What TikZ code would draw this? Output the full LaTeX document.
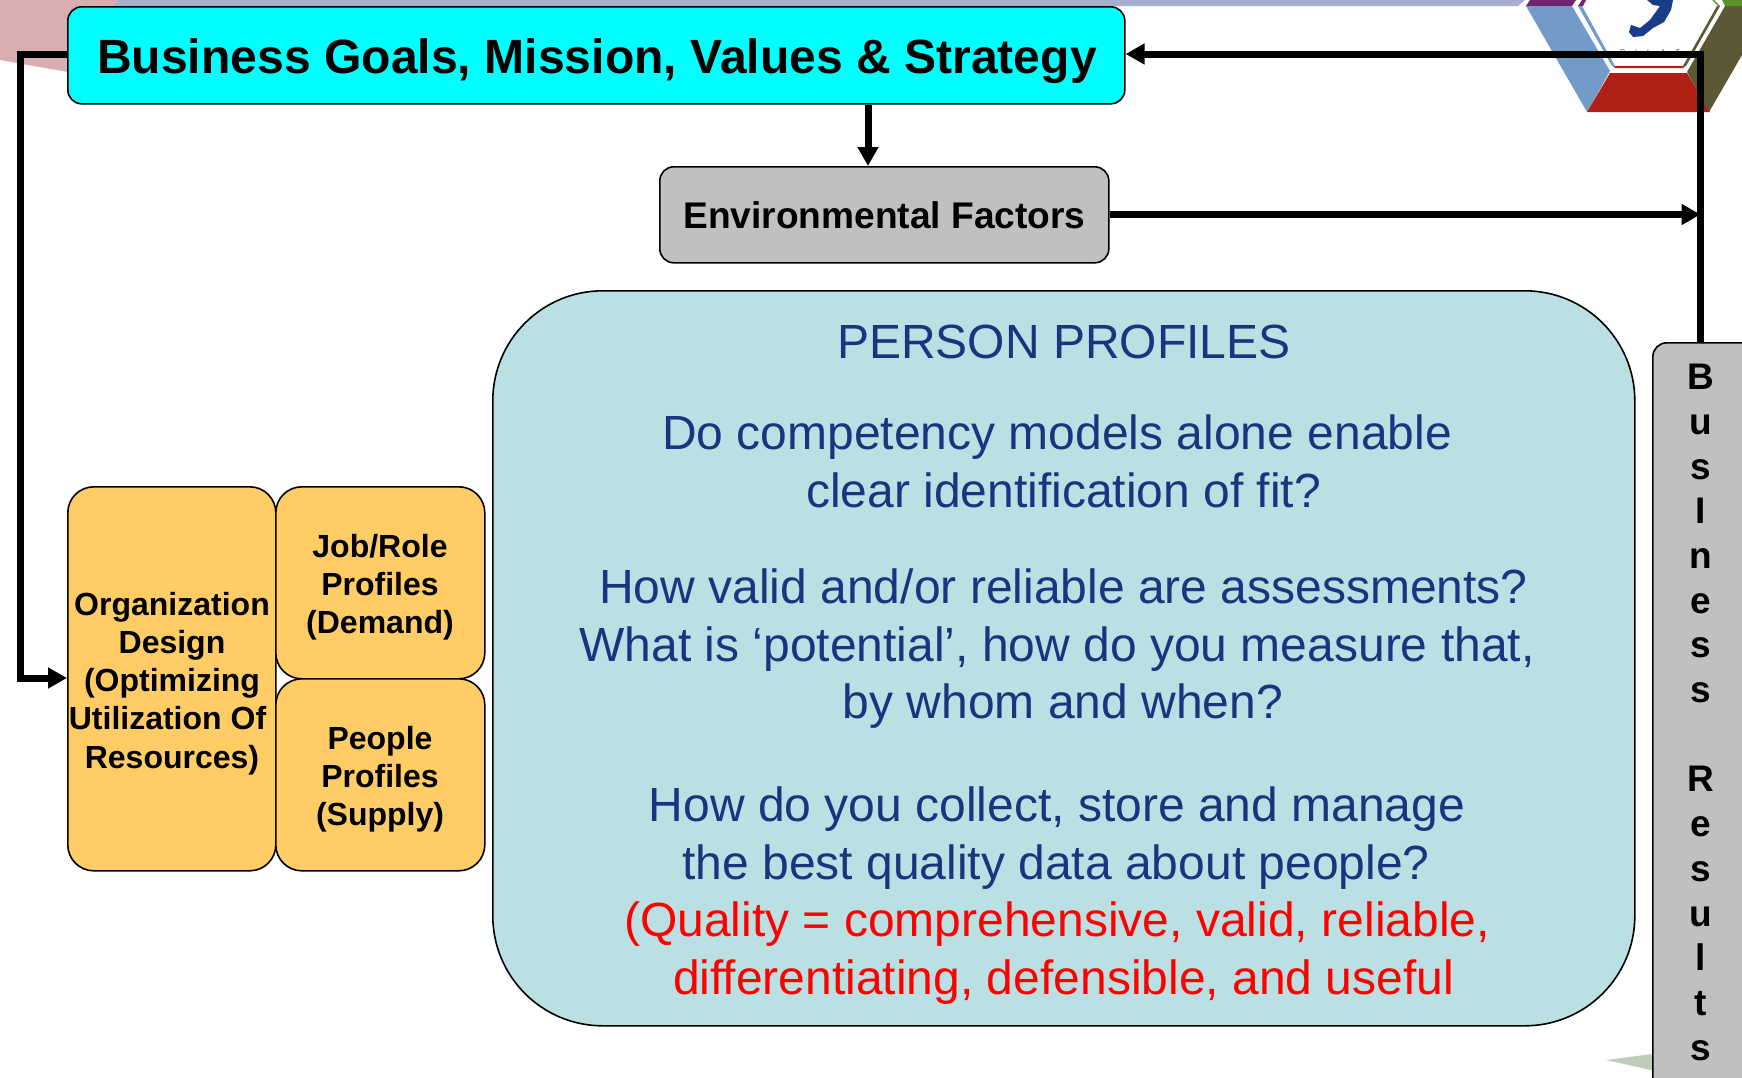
\documentclass[tikz,border=0pt]{standalone}
\usepackage{fontspec}
\setmainfont{Liberation Sans}
\usetikzlibrary{arrows.meta}
\definecolor{cyanbox}{RGB}{0,255,255}
\definecolor{graybox}{RGB}{192,192,192}
\definecolor{orangebox}{RGB}{255,204,102}
\definecolor{tealbox}{RGB}{186,224,227}
\definecolor{navytext}{RGB}{28,52,128}
\definecolor{bandblue}{RGB}{166,175,207}
\definecolor{pinkbg}{RGB}{216,174,176}
\definecolor{logoblue}{RGB}{115,155,200}
\definecolor{logored}{RGB}{176,32,22}
\definecolor{logoolive}{RGB}{92,88,54}
\definecolor{logopurple}{RGB}{112,38,108}
\definecolor{logogreen}{RGB}{92,144,40}
\definecolor{logonavy}{RGB}{24,60,136}
\definecolor{palegreen}{RGB}{190,205,185}
\tikzset{
  x=1pt,y=-1pt,
  boxed/.style={draw=black,line width=1.6pt,rounded corners=#1,align=center,inner sep=0pt,anchor=north west},
  boxed/.default=14pt,
  link/.style={draw=black,line width=7pt,line join=miter},
  tipped/.style={link,-{Triangle[length=19pt,width=20pt]}},
  bodytext/.style={font=\fontsize{48}{48}\selectfont,text=navytext,inner sep=0pt,anchor=base},
  redtext/.style={bodytext,text=red},
  orangetext/.style={font=\bfseries\fontsize{32}{38.2}\selectfont,align=center,inner sep=0pt},
}
\begin{document}
\begin{tikzpicture}
\useasboundingbox (0,0) rectangle (1742,1077);
\begin{scope}
\clip (0,0) rectangle (1742,1077);
\fill[white] (0,0) rectangle (1742,1077);
% backdrop fragments
\fill[pinkbg] (0,0) -- (118,0) -- (100,30) -- (68,72) -- (0,60) -- cycle;
\fill[bandblue] (118,0) -- (1525,0) -- (1518,6) -- (114,6) -- cycle;
\fill[palegreen] (1606,1060) -- (1660,1053) -- (1660,1072) -- cycle;
% logo
\fill[logopurple] (1526,6) -- (1572,6) -- (1576,0) -- (1530,0) -- cycle;
\fill[logopurple] (1578,6) -- (1583,6) -- (1586,0) -- (1582,0) -- cycle;
\fill[logoblue] (1526,6) -- (1572,6) -- (1610,71) -- (1587,112) -- cycle;
\fill[logoblue] (1578,6) -- (1582,6) -- (1615,66) -- (1612,66) -- cycle;
\fill[logored] (1587,112) -- (1610,73) -- (1687,73) -- (1710,112) -- cycle;
\fill[logored] (1613,66) -- (1685,66) -- (1683,68) -- (1615,68) -- cycle;
\fill[logoolive] (1687,72) -- (1725,6) -- (1742,6) -- (1742,55) -- (1709,112) -- cycle;
\fill[logoolive] (1683,66) -- (1717,6) -- (1720,6) -- (1686,66) -- cycle;
\fill[logogreen] (1714,0) -- (1720,6) -- (1718,6) -- (1712,0) -- cycle;
\fill[logogreen] (1722,0) -- (1742,0) -- (1742,6) -- (1725,6) -- cycle;
\fill[logonavy] (1647,0) -- (1673,0) -- (1671,10) -- (1664,22) -- (1653,28) -- (1643,36) -- (1633,37) -- (1629,32) -- (1631,25) -- (1640,28) -- (1650,20) -- (1655,13) -- (1660,6) -- (1653,5) -- cycle;
\node[font=\fontsize{7}{7}\selectfont,text=black!70,inner sep=0pt,anchor=base] (logotext) at (1650,54) {R\hspace{10pt}I\hspace{10pt}L\hspace{10pt}A\hspace{10pt}T};
% boxes
\node[boxed,fill=tealbox,minimum width=1142pt,minimum height=735pt,rounded corners=110pt] (person) at (492,290) {};
\node[boxed,fill=cyanbox,minimum width=1057pt,minimum height=97pt] (goals) at (67,6) {};
\node[boxed,fill=graybox,minimum width=449pt,minimum height=96pt] (env) at (659,166) {};
\node[boxed,fill=graybox,minimum width=110pt,minimum height=760pt] (results) at (1652,342) {};
\node[boxed=26pt,fill=orangebox,minimum width=208pt,minimum height=384pt] (org) at (67,486) {};
\node[boxed=26pt,fill=orangebox,minimum width=209pt,minimum height=192pt] (job) at (275,486) {};
\node[boxed=26pt,fill=orangebox,minimum width=209pt,minimum height=192pt] (people) at (275,678) {};
% connectors
\coordinate (goalsL) at (goals.west |- 0,54);
\coordinate (goalsR) at (goals.east |- 0,54);
\draw[tipped] (goalsL) -- (20,54) -- (20,678) -- (org.west |- 0,678);
\draw[tipped] (results.north -| 1700.5,0) -- (1700.5,54) -- (goalsR);
\draw[tipped] (goals.south -| 868,0) -- (env.north -| 868,0);
\draw[tipped] (env.east |- 0,214.5) -- (1700.5,214.5);
% labels
\node[font=\bfseries\fontsize{48.1}{48.1}\selectfont,inner sep=0pt] (goalsT) at (597,61) {Business Goals, Mission, Values \& Strategy};
\node[font=\bfseries\fontsize{37.1}{37.1}\selectfont,inner sep=0pt] (envT) at (884.5,215) {Environmental Factors};
\node[orangetext] (orgT) at (172,683.5) {Organization\\Design\\(Optimizing\\Utilization Of\rule{9pt}{0pt}\\Resources)};
\node[orangetext] (jobT) at (380,587) {Job/Role\\Profiles\\(Demand)};
\node[orangetext] (peopleT) at (380,779) {People\\Profiles\\(Supply)};
\node[bodytext] (pp) at (1064,358) {PERSON PROFILES};
\node[bodytext] (q1a) at (1057,449) {Do competency models alone enable};
\node[bodytext] (q1b) at (1063.5,507) {clear identification of fit?};
\node[bodytext] (q2a) at (1063.5,603) {How valid and/or reliable are assessments?};
\node[bodytext] (q2b) at (1057,661) {What is ‘potential’, how do you measure that,};
\node[bodytext] (q2c) at (1063,718.5) {by whom and when?};
\node[bodytext] (q3a) at (1057,821) {How do you collect, store and manage};
\node[bodytext] (q3b) at (1056,879) {the best quality data about people?};
\node[redtext] (q4a) at (1057,936) {(Quality = comprehensive, valid, reliable,};
\node[redtext] (q4b) at (1063.5,994) {differentiating, defensible, and useful};
\node[font=\bfseries\fontsize{37}{44.7}\selectfont,align=center,inner sep=0pt,anchor=north] (resT) at (1700.5,364) {B\\u\\s\\I\\n\\e\\s\\s\\[44.7pt]R\\e\\s\\u\\l\\t\\s};
\end{scope}
\end{tikzpicture}
\end{document}
